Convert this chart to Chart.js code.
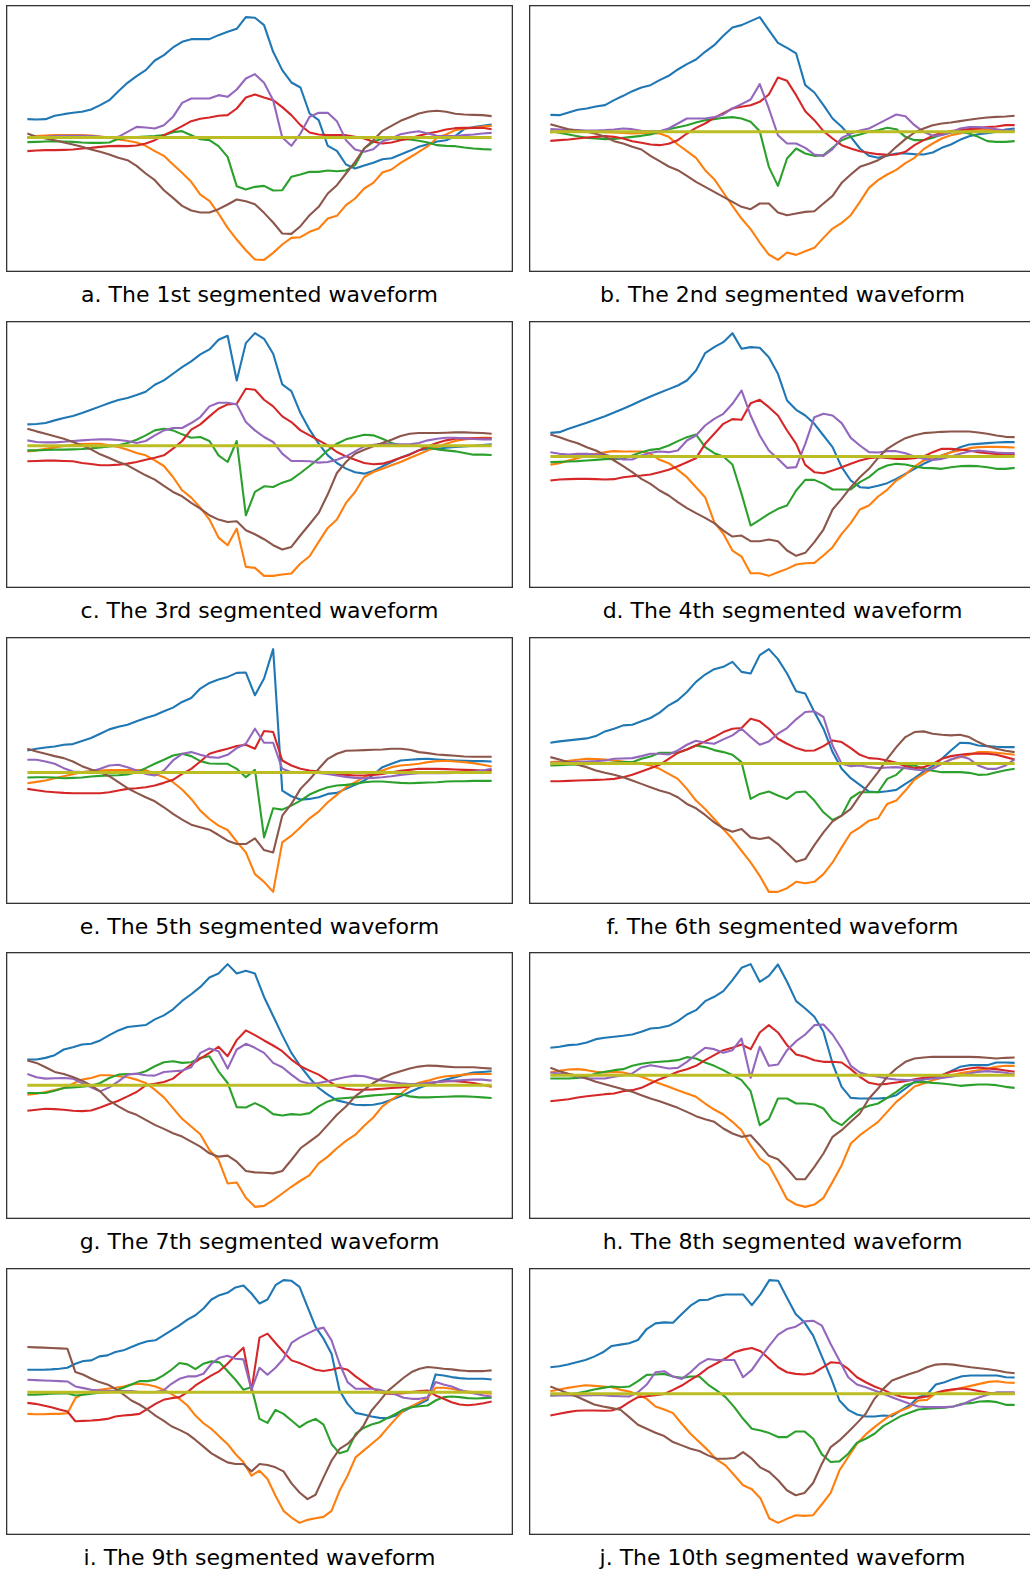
<!DOCTYPE html>
<html>
<head>
<meta charset="utf-8">
<script src="https://cdn.jsdelivr.net/npm/chart.js@4.4.0/dist/chart.umd.min.js"></script>
<style>
  html, body { margin: 0; padding: 0; background: #fff; width: 1030px; height: 1574px; overflow: hidden; }
  .panel { position: absolute; width: 507px; height: 267px; }
  .caption { position: absolute; width: 507px; text-align: center; font-family: "DejaVu Sans"; font-size: 22px; line-height: 22px; color: #000; white-space: nowrap; }
</style>
</head>
<body>
<script>
// captions under each panel
const captions = [
  "a. The 1st segmented waveform", "b. The 2nd segmented waveform",
  "c. The 3rd segmented waveform", "d. The 4th segmented waveform",
  "e. The 5th segmented waveform", "f. The 6th segmented waveform",
  "g. The 7th segmented waveform", "h. The 8th segmented waveform",
  "i. The 9th segmented waveform", "j. The 10th segmented waveform"
];

// a
const blueA = [55,54,55,65,70,74,77,84,97,112,139,164,184,202,231,247,270,287,295,295,295,307,317,326,361,359,337,257,202,165,150,72,52,-25,-40,-81,-93,-84,-76,-65,-62,-51,-40,-28,-20,-12,-8,4,26,31,35,39];
const orangeA = [-1,4,6,7,7,7,7,6,3,0,-6,-10,-15,-25,-41,-55,-81,-106,-133,-171,-190,-228,-271,-306,-338,-366,-367,-346,-321,-301,-299,-283,-273,-243,-235,-203,-183,-153,-136,-105,-96,-76,-60,-43,-26,-1,9,22,27,29,33,35];
const greenA = [-14,-13,-12,-11,-12,-13,-15,-16,-16,-15,-4,-1,1,3,4,7,16,19,7,-5,-8,-26,-58,-146,-156,-148,-145,-159,-158,-118,-111,-103,-103,-99,-101,-99,-83,-33,-13,-3,-3,-4,-6,-10,-15,-23,-25,-26,-30,-33,-35,-36];
const redA = [-41,-39,-38,-38,-37,-36,-33,-31,-28,-26,-25,-26,-24,-18,-8,7,20,34,49,56,60,65,67,87,120,129,120,112,91,67,37,15,9,7,7,7,2,-3,-13,-18,-15,-8,-3,5,12,17,24,28,29,29,29,25];
const purpleA = [0,1,2,4,5,5,5,4,2,-1,2,17,32,30,27,37,62,104,117,117,117,127,122,144,177,190,164,112,0,-25,12,62,74,74,49,-8,-36,-43,-35,-11,-3,10,15,19,12,5,4,4,7,9,12,14];
const brownA = [12,2,-3,-8,-15,-21,-28,-36,-43,-51,-61,-68,-85,-108,-128,-158,-181,-205,-219,-225,-225,-215,-201,-186,-191,-200,-226,-255,-288,-289,-266,-233,-208,-168,-143,-108,-73,-33,-8,20,35,50,61,72,78,80,77,71,69,68,67,64];

// b
const blueB = [51,50,58,66,70,76,80,95,108,122,133,140,155,168,187,203,217,240,260,288,313,320,332,344,305,267,252,235,140,118,80,40,15,-15,-50,-72,-78,-72,-65,-65,-67,-68,-62,-48,-38,-24,-13,-7,-4,0,7,10];
const orangeB = [-2,2,2,2,1,0,-1,-2,-3,-5,-4,-3,-5,-15,-38,-58,-78,-115,-142,-182,-222,-260,-292,-332,-368,-384,-362,-369,-358,-348,-318,-290,-273,-250,-210,-168,-145,-128,-114,-94,-78,-52,-35,-20,-10,-5,4,7,6,5,3,2];
const greenB = [2,-3,-8,-13,-18,-20,-22,-21,-18,-15,-12,-8,0,8,14,20,28,35,38,42,44,40,30,2,-105,-162,-80,-50,-65,-72,-70,-48,-25,-15,-8,0,5,12,8,-15,-25,-25,-18,-8,-2,0,-5,-15,-28,-30,-30,-28];
const redB = [-27,-25,-23,-20,-17,-15,-13,-15,-20,-28,-33,-38,-40,-36,-25,-5,12,25,42,56,70,75,80,90,112,163,153,110,62,35,2,-20,-40,-50,-58,-63,-67,-69,-68,-60,-40,-25,-12,-3,2,5,8,11,14,16,20,20];
const purpleB = [8,7,6,5,4,4,5,7,10,8,3,2,2,10,25,40,40,40,44,52,70,83,97,143,70,-10,-35,-35,-48,-68,-72,-52,-18,-5,4,10,24,38,52,47,20,0,-12,-10,-2,10,14,14,12,8,4,4];
const brownB = [23,15,8,4,0,-6,-15,-28,-35,-45,-53,-72,-88,-104,-115,-132,-150,-165,-180,-195,-210,-225,-232,-215,-215,-242,-250,-245,-240,-238,-215,-192,-153,-128,-105,-96,-85,-70,-45,-22,-2,10,20,25,28,32,36,40,43,45,46,48];

// c
const blueC = [64,65,68,76,83,89,98,108,118,128,137,143,152,162,183,196,216,236,253,274,289,318,330,196,308,338,321,276,184,164,98,48,6,-29,-52,-69,-80,-84,-76,-62,-49,-36,-26,-14,-9,-9,-6,-4,-2,0,2,4];
const orangeC = [-17,-14,-9,-5,-1,2,5,6,6,1,-4,-12,-22,-29,-44,-61,-94,-134,-156,-186,-222,-276,-299,-249,-364,-367,-391,-391,-387,-384,-354,-332,-289,-247,-222,-172,-139,-94,-79,-69,-59,-49,-37,-26,-14,-4,6,14,19,22,24,24];
const greenC = [-14,-14,-13,-12,-12,-11,-10,-8,-5,-2,1,8,18,31,46,51,46,34,24,26,14,-29,-49,14,-209,-139,-122,-124,-111,-102,-82,-61,-39,-14,6,19,26,33,31,21,8,1,1,-1,-6,-11,-14,-17,-22,-27,-27,-28];
const redC = [-47,-46,-45,-45,-46,-47,-52,-55,-59,-59,-57,-54,-49,-42,-36,-29,-9,14,48,64,88,111,124,126,171,168,138,118,88,71,46,31,16,1,-19,-32,-42,-52,-56,-54,-46,-36,-27,-14,-2,8,16,21,22,22,22,22];
const purpleC = [16,11,10,10,12,14,16,18,19,19,17,14,8,14,31,46,53,53,68,86,118,129,129,124,71,46,26,11,-24,-46,-46,-47,-51,-49,-42,-32,-17,-2,3,6,4,4,4,8,16,21,24,24,22,20,19,19];
const brownC = [51,43,36,28,21,11,1,-11,-26,-37,-49,-59,-74,-89,-102,-121,-139,-152,-172,-189,-209,-222,-229,-227,-254,-266,-281,-299,-312,-304,-269,-236,-202,-146,-82,-49,-24,-12,-2,8,18,29,36,38,38,38,39,40,40,39,38,36];

// d
const blueD = [71,73,83,92,101,111,121,132,143,155,168,180,191,202,213,228,258,310,328,343,370,323,328,326,298,248,168,140,123,98,63,28,-32,-72,-92,-94,-88,-80,-67,-52,-37,-22,-10,3,13,28,36,38,40,42,43,43];
const orangeD = [-25,-20,-12,-5,3,8,13,16,15,15,15,8,-10,-20,-40,-62,-92,-122,-197,-232,-282,-300,-350,-350,-358,-347,-337,-324,-320,-319,-297,-272,-232,-200,-159,-147,-120,-100,-72,-54,-30,-12,-4,3,13,18,25,28,29,29,28,27];
const greenD = [-17,-16,-15,-14,-12,-10,-8,-7,-7,3,13,20,23,33,46,58,66,28,10,0,-24,-112,-207,-190,-172,-157,-147,-102,-70,-70,-82,-99,-99,-99,-77,-62,-39,-27,-22,-24,-30,-34,-35,-37,-32,-29,-28,-29,-32,-37,-37,-34];
const redD = [-72,-69,-68,-67,-67,-68,-69,-68,-62,-59,-57,-54,-47,-40,-29,-17,-5,38,68,98,112,110,160,170,148,123,78,38,-25,-47,-50,-42,-32,-22,-12,-5,-2,-4,-7,-7,-5,0,13,23,23,21,18,13,10,8,6,6];
const purpleD = [13,8,6,8,8,6,6,-2,-9,-9,3,11,15,13,18,48,63,93,113,128,158,198,123,63,18,-7,-34,-32,38,118,128,123,100,56,33,13,12,16,16,10,0,-7,-10,-7,0,8,15,18,15,12,10,10];
const brownD = [66,58,48,40,28,18,5,-12,-29,-47,-67,-82,-102,-117,-137,-155,-170,-184,-200,-222,-240,-237,-254,-254,-249,-254,-282,-298,-289,-257,-219,-159,-127,-92,-62,-37,-4,23,40,55,64,70,72,74,75,75,75,72,68,63,59,58];

// e
const blueE = [66,71,75,78,83,85,94,103,116,129,137,143,153,163,171,183,194,211,223,251,268,278,286,298,299,231,281,369,-54,-71,-81,-79,-74,-64,-61,-49,-37,-24,-7,16,26,36,38,40,41,39,37,36,35,34,34,33];
const orangeE = [-32,-28,-24,-17,-11,-5,1,4,6,7,7,7,7,7,-4,-14,-29,-51,-79,-114,-139,-159,-172,-207,-239,-304,-327,-357,-209,-189,-164,-137,-117,-89,-67,-44,-29,-14,-1,6,16,21,23,26,31,34,35,33,31,28,23,18];
const greenE = [-15,-14,-14,-15,-17,-16,-15,-12,-10,-9,-8,-6,1,13,26,38,51,56,49,34,27,26,26,11,-14,8,-194,-107,-111,-99,-84,-66,-54,-44,-39,-37,-34,-29,-27,-27,-29,-31,-32,-31,-30,-29,-27,-26,-26,-25,-25,-25];
const redE = [-49,-53,-57,-59,-61,-62,-62,-62,-62,-59,-54,-49,-47,-44,-39,-31,-22,-4,11,33,56,64,71,79,83,71,124,121,36,21,11,6,3,-1,-5,-7,-9,-9,-7,-4,1,5,8,11,11,11,10,9,8,7,6,6];
const purpleE = [38,38,33,26,13,3,1,3,11,21,23,16,6,-4,-9,6,36,56,61,53,46,44,53,73,86,131,89,89,11,1,-1,-1,-1,-4,-9,-13,-16,-17,-16,-14,-11,-7,-4,-2,-2,-2,-2,-1,1,3,6,11];
const brownE = [71,63,56,49,43,33,19,9,1,-11,-29,-47,-61,-74,-86,-104,-124,-141,-156,-164,-171,-187,-204,-214,-214,-197,-232,-239,-129,-94,-49,-21,11,41,56,65,66,67,68,69,71,71,68,61,58,54,52,50,48,47,47,47];

// f
const blueF = [62,66,69,72,75,82,96,104,114,116,126,136,152,174,189,214,244,266,282,289,304,274,269,324,342,312,269,216,209,154,104,34,-16,-44,-64,-84,-86,-83,-79,-61,-44,-24,-8,14,39,62,61,54,52,50,49,49];
const orangeF = [4,6,8,11,14,13,12,9,6,2,-1,-6,-16,-31,-46,-76,-111,-136,-166,-196,-226,-261,-296,-336,-384,-384,-373,-354,-358,-354,-331,-296,-251,-208,-191,-171,-164,-121,-111,-81,-48,-31,-14,-1,12,19,26,34,34,32,29,26];
const greenF = [-6,-5,-4,-3,-2,0,1,3,4,4,14,21,32,32,32,42,54,49,40,34,26,4,-106,-91,-84,-96,-106,-86,-84,-111,-146,-169,-156,-104,-86,-86,-86,-46,-34,-8,-6,-16,-22,-26,-26,-26,-28,-34,-33,-26,-20,-16];
const redF = [-53,-53,-52,-51,-50,-49,-48,-46,-41,-34,-24,-14,-4,14,32,42,54,66,79,94,104,106,134,126,104,74,59,46,38,39,52,69,64,46,26,16,14,9,2,-8,-14,-11,-1,14,22,26,29,30,29,26,19,12];
const purpleF = [2,3,4,5,6,7,9,14,15,16,22,29,29,27,39,56,68,62,59,72,84,104,79,56,66,89,106,132,154,156,139,54,-1,-8,-6,-11,-14,-12,-11,-14,-18,-21,-16,-1,12,22,14,-6,-16,-16,-6,12];
const brownF = [19,12,4,-4,-11,-21,-28,-34,-41,-51,-61,-71,-81,-88,-101,-121,-134,-154,-176,-194,-204,-196,-221,-226,-221,-241,-268,-294,-286,-244,-206,-173,-156,-136,-96,-61,-26,14,49,79,94,96,89,86,84,86,79,64,52,44,38,34];

// g
const blueG = [77,77,82,90,107,114,122,124,134,150,164,174,177,180,197,209,227,252,272,294,322,334,362,334,342,334,264,207,150,97,57,22,-8,-28,-45,-51,-58,-59,-58,-53,-43,-33,-20,-8,2,10,17,24,32,38,40,42];
const orangeG = [-28,-25,-20,-14,-8,5,17,22,30,30,27,24,17,7,-13,-36,-68,-100,-123,-146,-193,-223,-293,-290,-336,-363,-360,-343,-323,-303,-285,-268,-233,-213,-188,-166,-148,-121,-96,-63,-43,-26,-3,8,14,22,27,29,32,34,34,34];
const greenG = [-23,-23,-23,-16,-8,-6,-4,-1,7,22,32,34,34,42,57,69,72,67,69,82,87,42,7,-65,-66,-53,-66,-86,-90,-86,-88,-83,-63,-48,-40,-38,-36,-33,-30,-28,-26,-26,-33,-36,-36,-35,-34,-33,-33,-34,-36,-38];
const redG = [-76,-73,-70,-71,-73,-76,-77,-75,-66,-56,-46,-33,-20,0,5,10,20,42,62,80,97,115,87,135,164,150,134,119,102,77,57,44,32,14,-3,-10,-13,-13,-12,-10,-8,-6,-3,2,7,10,12,12,10,7,2,-4];
const purpleG = [34,24,20,21,22,20,7,-6,-18,-6,12,32,35,30,29,40,42,44,54,97,110,102,50,107,124,112,97,67,54,32,12,5,7,12,19,25,29,27,20,14,10,6,4,4,7,10,12,14,16,17,17,14];
const brownG = [74,67,54,40,34,25,14,0,-18,-46,-63,-78,-88,-103,-118,-130,-143,-153,-168,-183,-203,-213,-210,-228,-256,-260,-261,-263,-256,-223,-188,-168,-148,-118,-88,-63,-33,-13,7,22,34,42,50,56,59,58,56,54,54,54,52,50];

// h
const blueH = [82,85,90,92,98,108,112,115,118,122,130,140,142,148,162,182,195,222,235,252,285,322,333,280,298,332,280,222,200,175,130,35,-35,-68,-70,-70,-70,-68,-60,-40,-20,-12,-7,0,12,25,30,30,30,38,38,37];
const orangeH = [8,13,17,18,15,10,8,10,8,2,-5,-15,-25,-35,-45,-55,-65,-85,-103,-118,-140,-165,-210,-250,-270,-320,-372,-388,-395,-388,-368,-320,-270,-205,-180,-160,-140,-110,-80,-58,-34,-25,-15,-8,0,6,10,15,20,25,28,28];
const greenH = [-10,-10,-10,-8,-5,5,10,15,18,28,34,38,40,42,45,54,50,38,28,15,0,-15,-48,-150,-132,-70,-70,-85,-85,-88,-100,-135,-150,-125,-102,-92,-85,-68,-50,-30,-22,-20,-23,-25,-28,-32,-30,-28,-28,-30,-35,-38];
const redH = [-78,-75,-72,-67,-63,-60,-57,-55,-48,-45,-38,-25,-12,-2,10,18,28,45,60,75,82,92,78,128,150,128,90,62,55,45,40,40,38,18,-5,-23,-28,-26,-22,-18,-12,-8,-5,0,10,15,20,23,20,18,14,10];
const purpleH = [8,5,2,-5,-10,-10,-10,-5,0,5,23,30,25,20,22,40,62,82,78,67,75,110,-8,85,28,32,75,102,122,150,152,122,80,28,8,0,-5,-10,-13,-15,-15,-13,-10,-8,-5,0,5,10,12,10,7,2];
const brownH = [22,12,4,-2,-10,-20,-27,-35,-42,-50,-60,-70,-78,-88,-98,-110,-123,-132,-140,-160,-175,-185,-180,-210,-242,-252,-280,-312,-312,-275,-235,-185,-165,-140,-115,-70,-40,-5,20,40,50,53,55,55,55,55,55,54,52,50,52,53];

// i
const blueI = [67,67,67,68,70,73,85,93,95,107,110,120,125,135,145,152,155,170,185,200,217,230,250,277,290,297,313,319,295,265,277,320,335,333,315,255,195,160,115,5,-35,-62,-67,-73,-77,-78,-70,-57,-45,-35,-23,53,50,45,42,40,40,40,38];
const orangeI = [-65,-66,-66,-65,-65,-63,-18,-5,3,7,10,13,17,23,25,22,17,7,-5,-20,-40,-70,-93,-110,-133,-155,-185,-210,-250,-235,-260,-310,-355,-375,-391,-382,-377,-373,-355,-295,-250,-195,-175,-155,-135,-107,-80,-55,-42,-30,-17,13,13,10,5,2,-1,-3,-5];
const greenI = [-8,-8,-6,-5,-4,-3,-10,-8,-5,-2,0,5,13,23,33,33,37,50,67,87,83,69,85,92,89,63,37,7,15,-80,-92,-53,-65,-85,-105,-90,-80,-97,-155,-183,-175,-125,-107,-97,-90,-77,-65,-52,-45,-42,-40,-25,-15,-13,-15,-18,-19,-18,-17];
const redI = [-32,-35,-40,-45,-52,-58,-87,-86,-85,-83,-80,-73,-70,-68,-65,-50,-35,-23,-18,-15,0,20,35,50,63,85,110,133,5,163,175,147,120,95,87,77,67,63,67,73,67,47,30,13,0,-5,-5,-3,0,3,5,-10,-20,-30,-37,-39,-37,-33,-28];
const purpleI = [37,36,35,34,33,32,17,12,7,5,4,3,3,3,0,0,0,5,25,40,47,47,55,85,103,109,100,98,7,73,52,73,100,147,163,175,187,193,155,85,30,10,10,10,7,0,-7,-17,-20,-20,-15,30,23,17,7,0,-5,-10,-13];
const brownI = [135,134,133,132,131,130,60,52,40,30,23,10,-7,-25,-37,-52,-70,-85,-102,-113,-125,-143,-163,-183,-197,-210,-215,-215,-237,-215,-218,-225,-237,-273,-300,-320,-307,-255,-205,-170,-155,-130,-100,-55,-27,3,23,43,60,70,75,73,70,68,65,63,63,63,65];

// j
const blueJ = [80,83,88,95,102,112,125,144,148,152,162,195,212,215,214,240,265,282,283,294,299,299,299,267,300,342,340,290,240,215,175,112,50,-20,-48,-62,-68,-68,-65,-67,-50,-35,-10,-2,28,35,45,53,55,55,55,55,50,49];
const orangeJ = [8,13,18,22,26,24,22,20,12,7,-2,-15,-38,-47,-58,-90,-120,-145,-170,-198,-215,-245,-275,-287,-315,-375,-388,-376,-365,-367,-365,-332,-298,-230,-190,-150,-122,-100,-80,-62,-50,-40,-20,-18,2,8,12,18,24,30,36,38,34,33];
const greenJ = [-5,-3,-2,2,7,13,18,22,20,22,38,57,58,60,52,48,52,52,28,10,-10,-40,-75,-105,-110,-118,-130,-130,-113,-113,-135,-182,-205,-203,-180,-147,-135,-120,-97,-82,-67,-57,-47,-45,-43,-42,-38,-30,-28,-23,-22,-25,-33,-33];
const redJ = [-65,-60,-55,-51,-50,-50,-51,-50,-42,-25,-10,-7,-4,0,12,25,42,58,78,92,107,125,133,138,128,105,80,65,60,58,62,78,95,93,75,50,35,22,12,0,-8,-12,-12,-8,3,10,14,16,13,8,3,0,0,0];
const purpleJ = [-5,-5,-5,-5,-5,-4,-4,-6,-7,-8,5,28,65,68,52,45,65,90,105,102,102,102,50,72,110,145,178,195,202,218,220,205,150,100,50,28,20,10,0,-10,-20,-30,-38,-40,-40,-40,-38,-32,-20,-10,-2,5,5,5];
const brownJ = [22,12,2,-8,-20,-32,-38,-43,-48,-70,-93,-105,-117,-127,-145,-155,-165,-172,-185,-195,-195,-193,-175,-195,-222,-235,-260,-290,-305,-298,-268,-210,-160,-140,-115,-88,-60,-15,15,40,50,60,68,80,88,90,88,84,80,77,74,70,65,62];

// the flat reference trace sits at zero in every panel
const baselineLevel = 0;

const seriesColors = ["#1f77b4", "#ff7f0e", "#2ca02c", "#d62728", "#9467bd", "#8c564b"];
const baselineColor = "#bcbd22";

const panelSeries = [
  [blueA, orangeA, greenA, redA, purpleA, brownA],
  [blueB, orangeB, greenB, redB, purpleB, brownB],
  [blueC, orangeC, greenC, redC, purpleC, brownC],
  [blueD, orangeD, greenD, redD, purpleD, brownD],
  [blueE, orangeE, greenE, redE, purpleE, brownE],
  [blueF, orangeF, greenF, redF, purpleF, brownF],
  [blueG, orangeG, greenG, redG, purpleG, brownG],
  [blueH, orangeH, greenH, redH, purpleH, brownH],
  [blueI, orangeI, greenI, redI, purpleI, brownI],
  [blueJ, orangeJ, greenJ, redJ, purpleJ, brownJ]
];

const colLeft = [6, 529];
const rowTop = [5, 321, 637, 952, 1268];
const X_MARGIN = 0.046;
const Y_MARGIN = 0.05;

const framePlugin = {
  id: "frame",
  afterDraw(chart) {
    const ctx = chart.ctx;
    ctx.save();
    ctx.strokeStyle = "#333";
    ctx.lineWidth = 1.3;
    ctx.strokeRect(0.65, 0.65, chart.width - 1.3, chart.height - 1.3);
    ctx.restore();
  }
};

panelSeries.forEach((series, p) => {
  const n = series[0].length;
  const labels = series[0].map((_, i) => i);
  const baseline = labels.map(() => baselineLevel);

  const left = colLeft[p % 2];
  const top = rowTop[Math.floor(p / 2)];

  const box = document.createElement("div");
  box.className = "panel";
  box.style.left = left + "px";
  box.style.top = top + "px";
  const canvas = document.createElement("canvas");
  canvas.width = 507;
  canvas.height = 267;
  box.appendChild(canvas);
  document.body.appendChild(box);

  const cap = document.createElement("div");
  cap.className = "caption";
  cap.style.left = left + "px";
  cap.style.top = (top + 279) + "px";
  cap.textContent = captions[p];
  document.body.appendChild(cap);

  const all = series.flat().concat(baseline);
  const lo = Math.min(...all), hi = Math.max(...all);
  const yPad = (hi - lo) * Y_MARGIN;
  const xPad = (n - 1) * X_MARGIN;

  // chart.js paints the first dataset on top, so list them back to front reversed
  const datasets = [{
    data: baseline, borderColor: baselineColor, borderWidth: 3
  }];
  for (let k = series.length - 1; k >= 0; k--) {
    datasets.push({ data: series[k], borderColor: seriesColors[k], borderWidth: 2.1 });
  }

  new Chart(canvas, {
    type: "line",
    data: { labels: labels, datasets: datasets },
    options: {
      responsive: false,
      animation: false,
      events: [],
      elements: {
        point: { radius: 0 },
        line: { tension: 0, borderJoinStyle: "round", fill: false }
      },
      layout: { padding: 0 },
      plugins: { legend: { display: false }, tooltip: { enabled: false } },
      scales: {
        x: { type: "linear", display: false, min: -xPad, max: n - 1 + xPad },
        y: { display: false, min: lo - yPad, max: hi + yPad }
      }
    },
    plugins: [framePlugin]
  });
});
</script>
</body>
</html>
